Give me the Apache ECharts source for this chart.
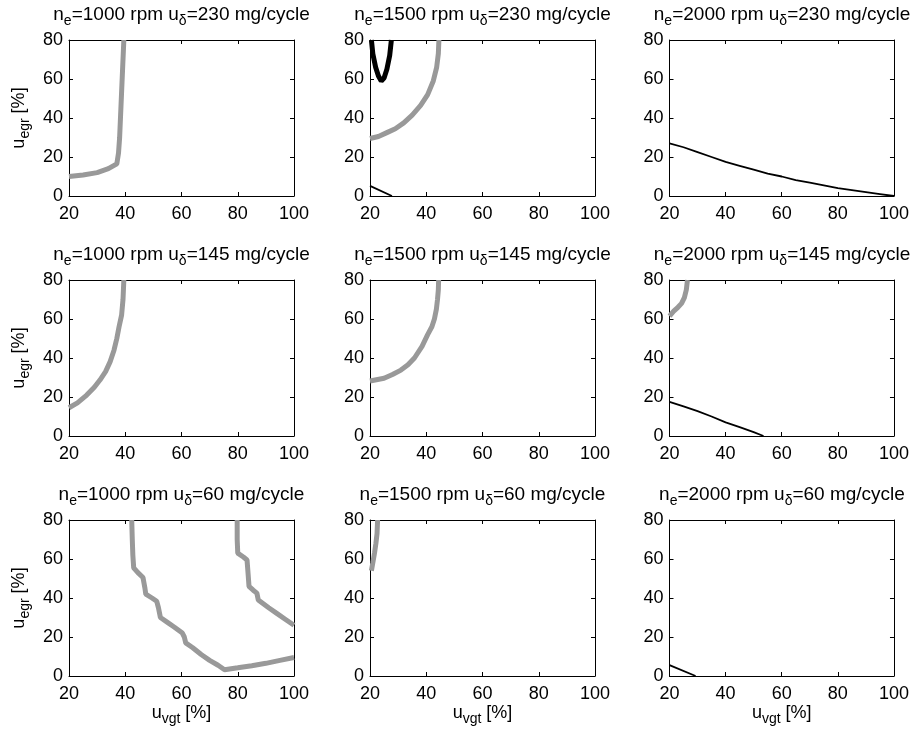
<!DOCTYPE html>
<html><head><meta charset="utf-8">
<script src="https://cdn.jsdelivr.net/npm/echarts/dist/echarts.min.js"></script>
<style>html,body{margin:0;padding:0;background:#fff}#c{width:912px;height:735px}</style>
</head><body><div id="c"></div><script>
// ---- data ----
const xTickLabels = [20, 40, 60, 80, 100];
const yTickLabels = [0, 20, 40, 60, 80];
const engineSpeeds = [1000, 1500, 2000];   // columns
const fuelInjections = [230, 145, 60];     // rows

// row 1: u_delta = 230 mg/cycle
const n1000_f230_gray = [[20,10],[25,10.8],[30,12],[34,14],[37,16.5],[37.6,22],[38,30],[38.3,40],[38.6,50],[38.9,60],[39.2,70],[39.5,80]];
const n1500_f230_black = [[20.5,80],[21,73],[22,66],[23,61.5],[24,59],[25,60.5],[26,65],[27,72],[27.6,80]];
const n1500_f230_gray = [[20,29.5],[23,30.5],[26,32.5],[29,34.5],[32,37.5],[35,41.5],[38,46.5],[40.5,52],[42.5,59],[43.7,66],[44.3,73],[44.5,80]];
const n1500_f230_thin = [[20,5.2],[27.8,0]];
const n2000_f230_thin = [[20,27],[25,25],[30,22.5],[35,20],[40,17.5],[45,15.5],[50,13.5],[55,11.5],[60,10],[65,8.2],[70,6.8],[75,5.4],[80,4],[85,3],[90,2],[95,1],[100,0]];
// row 2: u_delta = 145 mg/cycle
const n1000_f145_gray = [[20,14.5],[23,17],[26.3,21],[29,25],[31,28.7],[33,33],[34.6,38],[36,44],[37,50],[37.8,56],[38.7,62],[39.2,70],[39.5,80]];
const n1500_f145_gray = [[20,28.2],[25,29.6],[28,31.5],[31,33.8],[33.5,36.5],[35.8,40],[38.5,46],[40.5,52],[42,56],[42.9,60],[43.6,65],[44,70],[44.3,75],[44.4,80]];
const n2000_f145_gray = [[20,61.5],[21.5,64],[23,66],[24.3,68],[25.3,71],[26,75],[26.4,80]];
const n2000_f145_thin = [[20,17.5],[25,15.2],[30,12.8],[35,10],[40,7],[45,4.5],[50,2],[53.5,0]];
// row 3: u_delta = 60 mg/cycle
const n1000_f60_grayA = [[42.3,80],[42.5,70],[42.7,62],[43,55.5],[44.5,53],[46.3,50.5],[47,45],[47.3,42],[49.5,40],[51.2,38.3],[51.8,35],[52.5,30],[55,27.5],[57.5,25],[60.3,22],[61,20],[61.5,17],[64,14.5],[67,11],[70,8],[73,5.5],[75.3,3.2],[80,4.2],[85,5.3],[90,6.5],[95,8],[100,9.5]];
const n1000_f60_grayB = [[79.8,80],[79.8,70],[80,63],[82,61],[83.3,59.5],[83.7,52],[84,46],[85.5,44],[86.8,42.5],[87.3,39],[88,38],[91,35],[94,32],[97,29],[100,26]];
const n1500_f60_gray = [[20.5,54],[21,58],[21.6,63],[22.1,68],[22.5,73],[22.7,80]];
const n2000_f60_thin = [[20,5.6],[29.3,0]];

const panelLines = [
  [ [['gray', n1000_f230_gray]], [['black', n1500_f230_black], ['gray', n1500_f230_gray], ['thin', n1500_f230_thin]], [['thin', n2000_f230_thin]] ],
  [ [['gray', n1000_f145_gray]], [['gray', n1500_f145_gray]], [['gray', n2000_f145_gray], ['thin', n2000_f145_thin]] ],
  [ [['gray', n1000_f60_grayA], ['gray', n1000_f60_grayB]], [['gray', n1500_f60_gray]], [['thin', n2000_f60_thin]] ]
];

// ---- layout & style ----
const colLeft = [69, 370, 669.5];
const rowTop = [40, 280, 520];
const GW = 225, GH = 156;
const FONT = '"Liberation Sans", Arial, Helvetica, sans-serif';
const lineStyles = {
  gray: { color: '#999999', width: 5 },
  black: { color: '#000000', width: 5 },
  thin: { color: '#000000', width: 1.8 }
};
const richTitle = {
  n: { fontSize: 19, fontWeight: 'normal', fontFamily: FONT, color: '#000' },
  s: { fontSize: 14, fontWeight: 'normal', fontFamily: FONT, color: '#000', padding: [13, 0, 0, 0] }
};
const richName = {
  n: { fontSize: 18, fontWeight: 'normal', fontFamily: FONT, color: '#000' },
  s: { fontSize: 14, fontWeight: 'normal', fontFamily: FONT, color: '#000', padding: [12, 0, 0, 0] }
};

const grid = [], xAxis = [], yAxis = [], series = [], title = [];
const xMin = xTickLabels[0], xMax = xTickLabels[xTickLabels.length - 1], xInt = xTickLabels[1] - xTickLabels[0];
const yMin = yTickLabels[0], yMax = yTickLabels[yTickLabels.length - 1], yInt = yTickLabels[1] - yTickLabels[0];

for (let r = 0; r < 3; r++) {
  for (let c = 0; c < 3; c++) {
    const g = grid.length;
    grid.push({ left: colLeft[c], top: rowTop[r], width: GW, height: GH, containLabel: false });
    const axLine = { show: true, onZero: false, lineStyle: { color: '#000', width: 1 } };
    const tick = { show: true, inside: true, length: 4, lineStyle: { color: '#000', width: 1 } };
    const lbl = { show: true, color: '#000', fontSize: 18, fontFamily: FONT };
    const bottom = {
      type: 'value', gridIndex: g, position: 'bottom', min: xMin, max: xMax, interval: xInt,
      axisLine: axLine, axisTick: tick, splitLine: { show: false },
      axisLabel: Object.assign({}, lbl, { margin: 9 })
    };
    if (r === 2) {
      Object.assign(bottom, {
        name: '{n|u}{s|vgt}{n| [%]}', nameLocation: 'middle', nameGap: 23,
        nameTextStyle: { rich: richName }
      });
    }
    xAxis.push(bottom);
    xAxis.push({
      type: 'value', gridIndex: g, position: 'top', min: xMin, max: xMax, interval: xInt,
      axisLine: axLine, axisTick: tick, splitLine: { show: false }, axisLabel: { show: false }
    });
    const left = {
      type: 'value', gridIndex: g, position: 'left', min: yMin, max: yMax, interval: yInt,
      axisLine: axLine, axisTick: tick, splitLine: { show: false },
      axisLabel: Object.assign({}, lbl, { margin: 6 })
    };
    if (c === 0) {
      Object.assign(left, {
        name: '{n|u}{s|egr}{n| [%]}', nameLocation: 'middle', nameGap: 37, nameRotate: 90,
        nameTextStyle: { rich: richName }
      });
    }
    yAxis.push(left);
    yAxis.push({
      type: 'value', gridIndex: g, position: 'right', min: yMin, max: yMax, interval: yInt,
      axisLine: axLine, axisTick: tick, splitLine: { show: false }, axisLabel: { show: false }
    });
    title.push({
      text: '{n|n}{s|e}{n|=' + engineSpeeds[c] + ' rpm u}{s|δ}{n|=' + fuelInjections[r] + ' mg/cycle}',
      left: colLeft[c] + GW / 2 - 5, textAlign: 'center', top: rowTop[r] - 44,
      textStyle: { fontWeight: 'normal', rich: richTitle }
    });
    panelLines[r][c].forEach(([kind, data]) => {
      series.push({
        type: 'line', xAxisIndex: 2 * g, yAxisIndex: 2 * g, data: data,
        showSymbol: false, symbol: 'none', smooth: false, clip: true,
        lineStyle: lineStyles[kind], silent: true
      });
    });
  }
}

const chart = echarts.init(document.getElementById('c'), null, { renderer: 'canvas' });
chart.setOption({ animation: false, backgroundColor: '#fff', title, grid, xAxis, yAxis, series });
</script></body></html>
